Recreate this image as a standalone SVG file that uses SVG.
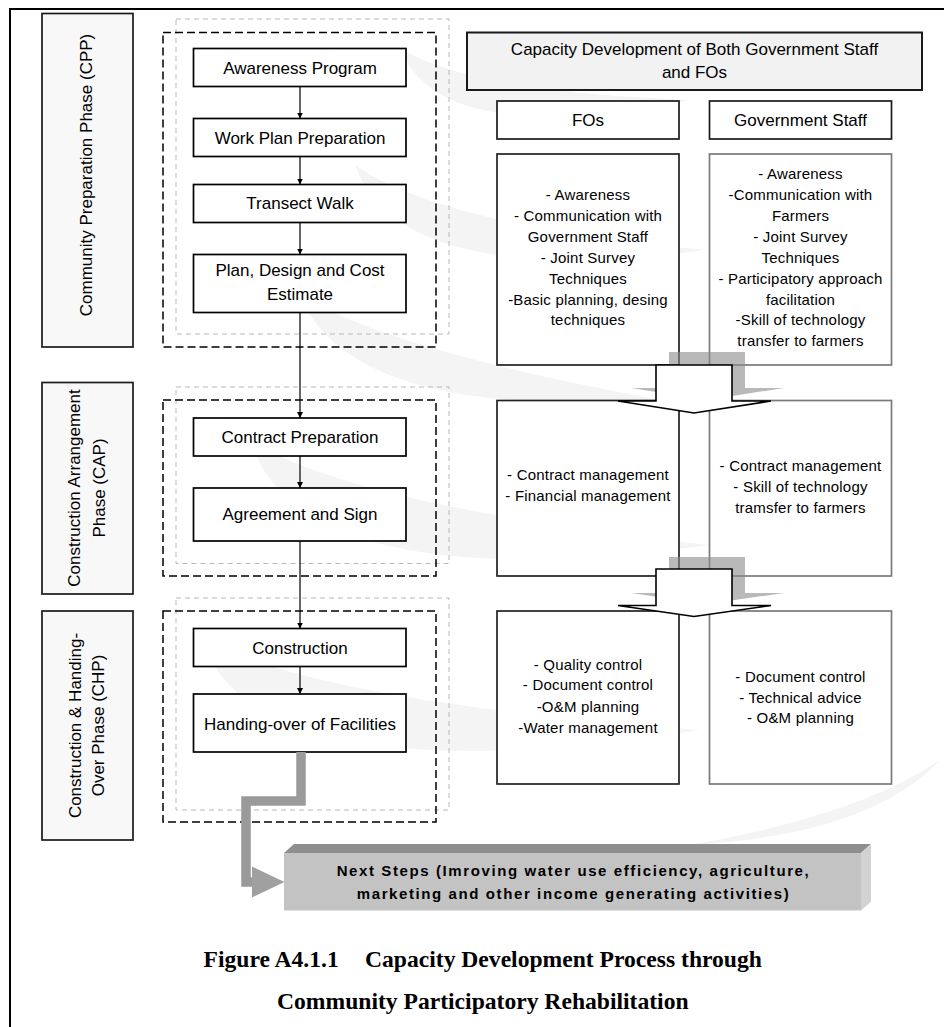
<svg xmlns="http://www.w3.org/2000/svg" width="944" height="1027" viewBox="0 0 944 1027">
<style>
.t{font-family:"Liberation Sans",Arial,sans-serif;fill:#000}
.lbl{font-size:17px;text-anchor:middle}
.li{font-size:15px;text-anchor:middle;letter-spacing:0.2px}
.proc{fill:#fff;stroke:#000;stroke-width:1.7}
.phase{fill:#f8f8f8;stroke:#1a1a1a;stroke-width:1.7}
.dashB{fill:none;stroke:#000;stroke-width:1.5;stroke-dasharray:8 4}
.dashG{fill:none;stroke:#b8b8b8;stroke-width:1;stroke-dasharray:5 4}
.fo{fill:#fff;stroke:#222;stroke-width:1.7}
.gv{fill:#fff;stroke:#7a7a7a;stroke-width:1.7}
.wm{fill:#f4f4f4}
.conn{stroke:#000;stroke-width:1.2;fill:none;marker-end:url(#ah)}
.big{fill:#fff;stroke:#000;stroke-width:1.6;stroke-linejoin:miter}
.shadow{fill:#8a8a8a;opacity:0.6}
</style>
<defs>
<marker id="ah" markerWidth="6" markerHeight="6" refX="6" refY="3" orient="auto" markerUnits="userSpaceOnUse">
<path d="M0,0 L6,3 L0,6 z" fill="#000"/>
</marker>
</defs>
<rect x="0" y="0" width="944" height="1027" fill="#fff"/>

<g id="watermark">
<path class="wm" d="M400,48 Q440,150 690,100 Q470,92 400,48 Z"/>
<path class="wm" d="M355,165 Q400,290 705,250 Q440,225 355,165 Z"/>
<path class="wm" d="M300,295 Q350,420 660,400 Q390,350 300,295 Z"/>
<path class="wm" d="M250,440 Q300,600 710,545 Q350,505 250,440 Z"/>
<path class="wm" d="M200,635 Q250,800 700,730 Q300,700 200,635 Z"/>
<path class="wm" d="M690,845 Q870,835 940,760 Q860,815 690,845 Z"/>
</g>

<rect x="10" y="9" width="960" height="1040" fill="none" stroke="#000" stroke-width="2"/>

<g id="phase-cpp">
<rect class="phase" x="42" y="13.5" width="91" height="333.5"/>
<text class="t lbl" transform="translate(91.5,175) rotate(-90)">Community Preparation Phase (CPP)</text>
</g>
<g id="phase-cap">
<rect class="phase" x="42" y="382.5" width="91" height="211.5"/>
<text class="t lbl" transform="translate(80,488) rotate(-90)">Construction Arrangement</text>
<text class="t lbl" transform="translate(105,488) rotate(-90)">Phase (CAP)</text>
</g>
<g id="phase-chp">
<rect class="phase" x="42" y="611" width="91" height="229"/>
<text class="t lbl" transform="translate(80.5,725.5) rotate(-90)">Construction &amp; Handing-</text>
<text class="t lbl" transform="translate(104,725.5) rotate(-90)">Over Phase (CHP)</text>
</g>

<g id="groups">
<rect class="dashG" x="176" y="19" width="273" height="315"/>
<rect class="dashB" x="163" y="32.5" width="273" height="314.5"/>
<rect class="dashG" x="176" y="387" width="273" height="176.5"/>
<rect class="dashB" x="163" y="400" width="273" height="176"/>
<rect class="dashG" x="176" y="598" width="273" height="212"/>
<rect class="dashB" x="163" y="611" width="273" height="211"/>
</g>

<g id="n-awareness">
<rect class="proc" x="193.5" y="48.5" width="212.5" height="38"/>
<text class="t lbl" x="300" y="73.5">Awareness Program</text>
</g>
<g id="n-workplan">
<rect class="proc" x="193.5" y="118.5" width="212.5" height="38"/>
<text class="t lbl" x="300" y="143.5">Work Plan Preparation</text>
</g>
<g id="n-transect">
<rect class="proc" x="193.5" y="184.5" width="212.5" height="38"/>
<text class="t lbl" x="300" y="209">Transect Walk</text>
</g>
<g id="n-plan">
<rect class="proc" x="193.5" y="254.5" width="212.5" height="58"/>
<text class="t lbl" x="300" y="276">Plan, Design and Cost</text>
<text class="t lbl" x="300" y="300">Estimate</text>
</g>
<g id="n-contract">
<rect class="proc" x="193.5" y="418" width="212.5" height="38"/>
<text class="t lbl" x="300" y="443">Contract Preparation</text>
</g>
<g id="n-agreement">
<rect class="proc" x="193.5" y="488" width="212.5" height="53"/>
<text class="t lbl" x="300" y="520">Agreement and Sign</text>
</g>
<g id="n-construction">
<rect class="proc" x="193.5" y="628.5" width="212.5" height="38"/>
<text class="t lbl" x="300" y="653.5">Construction</text>
</g>
<g id="n-handing">
<rect class="proc" x="193.5" y="694" width="212.5" height="58"/>
<text class="t lbl" x="300" y="730">Handing-over of Facilities</text>
</g>

<g id="n-header">
<rect x="467" y="32.5" width="455" height="57.5" fill="#f2f2f2" stroke="#1a1a1a" stroke-width="2"/>
<text class="t lbl" x="694.5" y="54.5">Capacity Development of Both Government Staff</text>
<text class="t lbl" x="694.5" y="77.5">and FOs</text>
</g>
<g id="n-fos-title">
<rect x="497" y="101" width="182" height="38" fill="#fff" stroke="#1a1a1a" stroke-width="1.7"/>
<text class="t lbl" x="588" y="126">FOs</text>
</g>
<g id="n-gov-title">
<rect x="709.5" y="101" width="182" height="38" fill="#fff" stroke="#1a1a1a" stroke-width="1.7"/>
<text class="t lbl" x="800.5" y="126">Government Staff</text>
</g>

<g id="n-fos-cpp">
<rect class="fo" x="497" y="154" width="182" height="211"/>
<text class="t li" x="588" y="200">- Awareness</text>
<text class="t li" x="588" y="221">- Communication with</text>
<text class="t li" x="588" y="242">Government Staff</text>
<text class="t li" x="588" y="262.5">- Joint Survey</text>
<text class="t li" x="588" y="284">Techniques</text>
<text class="t li" x="588" y="304.5">-Basic planning, desing</text>
<text class="t li" x="588" y="325">techniques</text>
</g>
<g id="n-gov-cpp">
<rect class="gv" x="709.5" y="154" width="182" height="211"/>
<text class="t li" x="800.5" y="179">- Awareness</text>
<text class="t li" x="800.5" y="200">-Communication with</text>
<text class="t li" x="800.5" y="221">Farmers</text>
<text class="t li" x="800.5" y="242">- Joint Survey</text>
<text class="t li" x="800.5" y="262.5">Techniques</text>
<text class="t li" x="800.5" y="284">- Participatory approach</text>
<text class="t li" x="800.5" y="304.5">facilitation</text>
<text class="t li" x="800.5" y="325">-Skill of technology</text>
<text class="t li" x="800.5" y="346">transfer to farmers</text>
</g>
<g id="n-fos-cap">
<rect class="fo" x="497" y="400.5" width="182" height="175.5"/>
<text class="t li" x="588" y="480">- Contract management</text>
<text class="t li" x="588" y="501">- Financial management</text>
</g>
<g id="n-gov-cap">
<rect class="gv" x="709.5" y="400.5" width="182" height="175.5"/>
<text class="t li" x="800.5" y="471">- Contract management</text>
<text class="t li" x="800.5" y="492">- Skill of technology</text>
<text class="t li" x="800.5" y="512.5">tramsfer to farmers</text>
</g>
<g id="n-fos-chp">
<rect class="fo" x="497" y="611" width="182" height="173"/>
<text class="t li" x="588" y="669.5">- Quality control</text>
<text class="t li" x="588" y="690">- Document control</text>
<text class="t li" x="588" y="711.5">-O&amp;M planning</text>
<text class="t li" x="588" y="732.5">-Water management</text>
</g>
<g id="n-gov-chp">
<rect class="gv" x="709.5" y="611" width="182" height="173"/>
<text class="t li" x="800.5" y="681.5">- Document control</text>
<text class="t li" x="800.5" y="702.5">- Technical advice</text>
<text class="t li" x="800.5" y="723">- O&amp;M planning</text>
</g>

<g id="connectors">
<line class="conn" x1="300" y1="86.5" x2="300" y2="118.5"/>
<line class="conn" x1="300" y1="156.5" x2="300" y2="184.5"/>
<line class="conn" x1="300" y1="222.5" x2="300" y2="254.5"/>
<line class="conn" x1="300" y1="312.5" x2="300" y2="418"/>
<line class="conn" x1="300" y1="456" x2="300" y2="488"/>
<line class="conn" x1="300" y1="541" x2="300" y2="628.5"/>
<line class="conn" x1="300" y1="666.5" x2="300" y2="694"/>
<polygon class="shadow" points="669,352 745,352 745,388 784,388 707,400 631,388 669,388"/>
<polygon class="big" points="656,365 732,365 732,401 771,401 694,413 618,401 656,401"/>
<polygon class="shadow" points="669,557 745,557 745,593 784,593 707,604 631,593 669,593"/>
<polygon class="big" points="656,569 732,569 732,605.5 771,605.5 694,616.5 618,605.5 656,605.5"/>
<path d="M301,752 V801 H246 V882 H256" fill="none" stroke="#9a9a9a" stroke-width="9.5" stroke-linejoin="miter"/>
<polygon points="252,866.5 284.5,882 252,897.5" fill="#a0a0a0"/>
</g>

<g id="n-nextsteps">
<polygon points="284,853 294,844 871,844 861,853" fill="#8e8e8e"/>
<polygon points="861,853 871,844 871,901.5 861,910.5" fill="#d2d2d2"/>
<rect x="284" y="853" width="577" height="57.5" fill="#c3c3c3"/>
<text class="t" font-size="15" font-weight="bold" letter-spacing="1.6" text-anchor="middle" x="573.5" y="875.5">Next Steps (Imroving water use efficiency, agriculture,</text>
<text class="t" font-size="15" font-weight="bold" letter-spacing="1.6" text-anchor="middle" x="573.5" y="898.5">marketing and other income generating activities)</text>
</g>

<g id="caption" font-family="'Liberation Serif','Times New Roman',serif" font-weight="bold" font-size="23.6" fill="#000">
<text x="203.5" y="966.5">Figure A4.1.1<tspan x="365">Capacity Development Process through</tspan></text>
<text x="482.8" y="1009" text-anchor="middle">Community Participatory Rehabilitation</text>
</g>
</svg>
